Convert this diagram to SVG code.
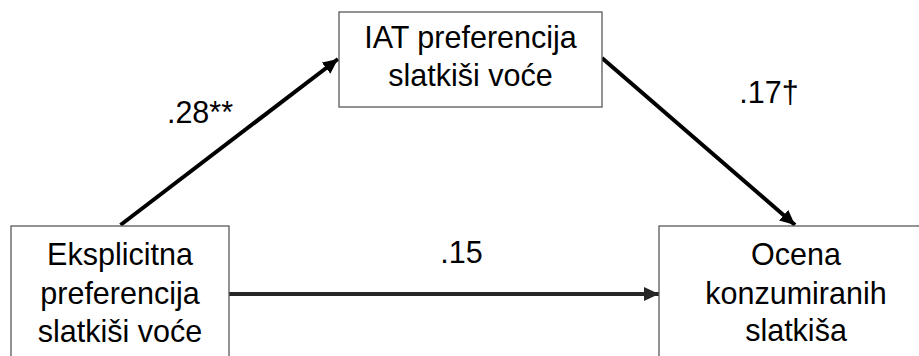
<svg xmlns="http://www.w3.org/2000/svg" width="919" height="356" viewBox="0 0 919 356">
<style>
.box{fill:#fff;stroke:#595959;stroke-width:1.3}
.t{font-family:"Liberation Sans",Arial,sans-serif;font-size:30.5px;fill:#000;text-anchor:middle}
.c{stroke:#000;stroke-width:4;fill:none}
</style>
<defs>
<marker id="ah" markerUnits="userSpaceOnUse" markerWidth="16" markerHeight="16" refX="15" refY="8" orient="auto">
<path d="M0,1 L15,8 L0,15 Z" fill="#000"/>
</marker>
<marker id="ah2" markerUnits="userSpaceOnUse" markerWidth="16" markerHeight="16" refX="15" refY="8" orient="auto">
<path d="M0,1 L15,8 L0,15 Z" fill="#262626"/>
</marker>
</defs>
<rect width="919" height="356" fill="#fff"/>
<g id="connectors">
<line class="c" x1="120.5" y1="225" x2="338" y2="59" marker-end="url(#ah)"/>
<line class="c" x1="602" y1="58" x2="795" y2="225" marker-end="url(#ah)"/>
<line class="c" x1="229" y1="294" x2="659" y2="294" stroke="#262626" style="stroke:#262626" marker-end="url(#ah2)"/>
<text class="t" x="200" y="123">.28**</text>
<text class="t" x="769" y="103">.17†</text>
<text class="t" x="461.5" y="263">.15</text>
</g>
<g id="node-explicit">
<rect class="box" x="11" y="226" width="218" height="140"/>
<text class="t" x="120" y="265">Eksplicitna</text>
<text class="t" x="120" y="304">preferencija</text>
<text class="t" x="120" y="342">slatkiši voće</text>
</g>
<g id="node-iat">
<rect class="box" x="339" y="12" width="263" height="95"/>
<text class="t" x="470.5" y="48">IAT preferencija</text>
<text class="t" x="470.5" y="86">slatkiši voće</text>
</g>
<g id="node-outcome">
<rect class="box" x="659" y="226" width="274" height="140"/>
<text class="t" x="796" y="265">Ocena</text>
<text class="t" x="796" y="304">konzumiranih</text>
<text class="t" x="796" y="341">slatkiša</text>
</g>
</svg>
